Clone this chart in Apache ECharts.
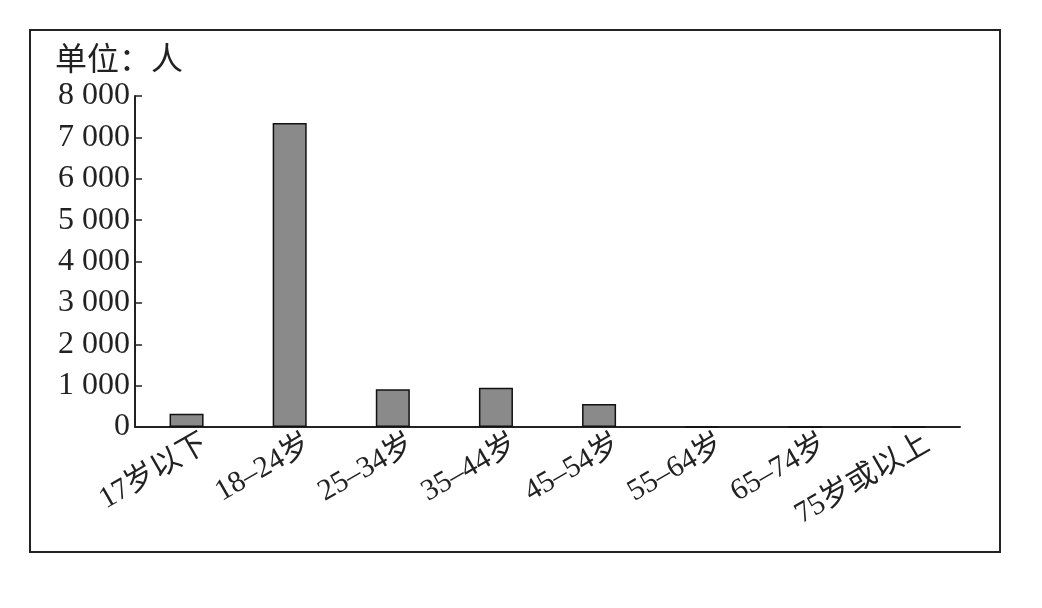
<!DOCTYPE html>
<html>
<head>
<meta charset="utf-8">
<script src="https://cdn.jsdelivr.net/npm/echarts@6/dist/echarts.min.js"></script>
<style>
html,body{margin:0;padding:0;background:#fff;}
#chart{width:1042px;height:608px;}
</style>
</head>
<body>
<div id="chart"></div>
<script>
const categories = ['17岁以下', '18–24岁', '25–34岁', '35–44岁', '45–54岁', '55–64岁', '65–74岁', '75岁或以上'];
const counts = [320, 7350, 910, 950, 555, 0, 0, 0];
const yTicks = [0, 1000, 2000, 3000, 4000, 5000, 6000, 7000, 8000];
const unitLabel = '单位：人';

const FONT = "'Liberation Serif', 'Noto Sans CJK SC', serif";
const chart = echarts.init(document.getElementById('chart'));
chart.setOption({
  backgroundColor: '#fff',
  animation: false,
  graphic: [
    { type: 'rect', shape: { x: 30, y: 30, width: 970, height: 522 },
      style: { fill: 'none', stroke: '#222', lineWidth: 2 } },
    { type: 'text', left: 55, top: 42,
      style: { text: unitLabel, font: "32px 'Noto Sans CJK SC', serif", fill: '#222' } }
  ],
  grid: { left: 135, right: 82, top: 96, bottom: 181, containLabel: false },
  xAxis: {
    type: 'category',
    data: categories,
    boundaryGap: true,
    axisLine: { lineStyle: { color: '#222', width: 2 } },
    axisTick: { inside: true, length: 8, lineStyle: { color: '#222', width: 1.5 } },
    axisLabel: {
      interval: 0, rotate: 30, margin: 26, color: '#222',
      fontFamily: FONT, fontSize: 30, padding: [0, -22, 0, 0]
    }
  },
  yAxis: {
    type: 'value',
    min: yTicks[0], max: yTicks[yTicks.length - 1], interval: 1000,
    axisLine: { show: true, lineStyle: { color: '#222', width: 2 } },
    axisTick: { show: true, inside: true, length: 7, lineStyle: { color: '#222', width: 1.5 } },
    splitLine: { show: false },
    axisLabel: {
      color: '#222', fontFamily: FONT, fontSize: 32, margin: 5,
      formatter: v => String(v).replace(/\B(?=(\d{3})+(?!\d))/g, ' ')
    }
  },
  series: [{
    type: 'bar',
    data: counts,
    barWidth: '33%',
    itemStyle: { color: '#8a8a8a', borderColor: '#111', borderWidth: 1.5 }
  }]
});
</script>
</body>
</html>
